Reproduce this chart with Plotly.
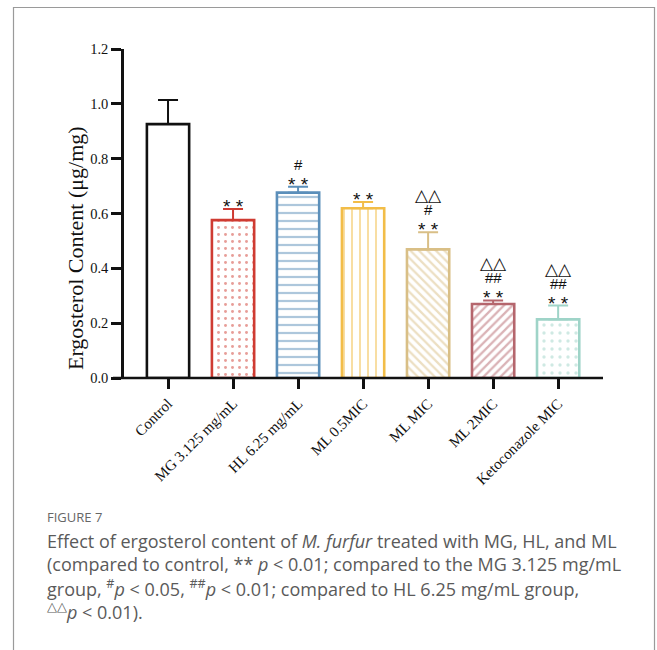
import plotly.graph_objects as go

categories = ["Control", "MG 3.125 mg/mL", "HL 6.25 mg/mL", "ML 0.5MIC", "ML MIC", "ML 2MIC", "Ketoconazole MIC"]
values = [0.926, 0.576, 0.676, 0.619, 0.469, 0.270, 0.214]
errors = [0.088, 0.040, 0.022, 0.023, 0.063, 0.013, 0.050]
sig_labels = [[], ["**"], ["**", "#"], ["**"], ["**", "#", "△△"], ["**", "##", "△△"], ["**", "##", "△△"]]
y_ticks = [0.0, 0.2, 0.4, 0.6, 0.8, 1.0, 1.2]

colors = ["#111111", "#cf3b32", "#5b8fba", "#f2bd48", "#d9bf86", "#b5666d", "#9fd4c8"]
patterns = ["", ".", "-", "|", "\\", "/", "."]
pat_size = [8, 7, 8, 8, 6, 6, 8]
pat_sol = [0.2, 0.14, 0.28, 0.25, 0.38, 0.38, 0.14]

W, H = 657, 650
L, R, T, B = 124, 54, 49, 272  # plot area: x 124..603, y 49..378

def px(x):
    return (x - L) / (W - L - R)

def py(y):
    return (H - B - y) / (H - T - B)

fig = go.Figure()
for i, c in enumerate(categories):
    fig.add_trace(go.Bar(
        x=[c], y=[values[i]], width=0.65,
        marker=dict(color="white", line=dict(color=colors[i], width=2.6),
                    pattern=dict(shape=patterns[i], fgcolor=colors[i], bgcolor="white",
                                 size=pat_size[i], solidity=pat_sol[i])),
        error_y=dict(type="data", symmetric=False, array=[errors[i]], arrayminus=[0],
                     color=colors[i], thickness=2, width=10),
        showlegend=False,
    ))

sig_style = {
    "**": dict(text="* *", size=19, shift=-9),
    "#": dict(text="#", size=15, shift=0),
    "##": dict(text="##", size=15, shift=0),
    "△△": dict(text="△△", size=17, shift=0),
}

annotations = []
for i, labs in enumerate(sig_labels):
    for j, s in enumerate(labs):
        st = sig_style[s]
        annotations.append(dict(
            x=categories[i], y=values[i] + errors[i], xref="x", yref="y",
            text=st["text"], showarrow=False, yanchor="bottom",
            yshift=st["shift"] + j * 13 - 1,
            font=dict(family="Liberation Sans, Arial", size=st["size"], color="#111"),
        ))

# y-axis title
annotations.append(dict(
    x=px(75), y=py(248), xref="paper", yref="paper", text="Ergosterol Content (μg/mg)",
    textangle=-90, showarrow=False, xanchor="center", yanchor="middle",
    font=dict(family="Liberation Serif, Times New Roman", size=22, color="#111"),
))

cap_font = dict(family="Open Sans, Noto Sans", size=18, color="#5a5a5a")
caption = [
    (517, "FIGURE 7", dict(family="Open Sans, Noto Sans", size=13, color="#666666")),
    (541, "Effect of ergosterol content of <i>M. furfur</i> treated with MG, HL, and ML", cap_font),
    (564, "(compared to control, ** <i>p</i> &lt; 0.01; compared to the MG 3.125 mg/mL", cap_font),
    (588, "group, <sup>#</sup><i>p</i> &lt; 0.05, <sup>##</sup><i>p</i> &lt; 0.01; compared to HL 6.25 mg/mL group,", cap_font),
    (611, "<sup>△△</sup><i>p</i> &lt; 0.01).", cap_font),
]
for yy, t, f in caption:
    annotations.append(dict(x=px(45), y=py(yy), xref="paper", yref="paper", text=t,
                            showarrow=False, xanchor="left", yanchor="middle", font=f))

shapes = [
    # outer frame
    dict(type="rect", xref="paper", yref="paper", x0=px(13.5), x1=px(654.5), y0=py(660), y1=py(7.5),
         line=dict(color="#9a9a9a", width=1.2), fillcolor="rgba(0,0,0,0)", layer="below"),
    # x axis line extending left of y axis
    dict(type="line", xref="paper", yref="paper", x0=px(113), x1=px(603), y0=0, y1=0,
         line=dict(color="#111", width=2.6)),
]

fig.update_layout(
    width=W, height=H, margin=dict(l=L, r=R, t=T, b=B),
    paper_bgcolor="white", plot_bgcolor="white", barmode="overlay",
    annotations=annotations, shapes=shapes,
    xaxis=dict(range=[-0.677, 6.69], showline=False, ticks="outside", ticklen=10, tickwidth=2.6,
               tickcolor="#111", tickangle=-45, showgrid=False, zeroline=False,
               tickfont=dict(family="Liberation Serif, Times New Roman", size=15, color="#111")),
    yaxis=dict(range=[0, 1.2], tickvals=y_ticks, ticktext=[f"{v:.1f}" for v in y_ticks],
               showline=True, linecolor="#111", linewidth=2.6, ticks="outside", ticklen=10,
               tickwidth=2.6, tickcolor="#111", showgrid=False, zeroline=False,
               tickfont=dict(family="Liberation Serif, Times New Roman", size=14.5, color="#111")),
)

fig.write_html("out.html")
